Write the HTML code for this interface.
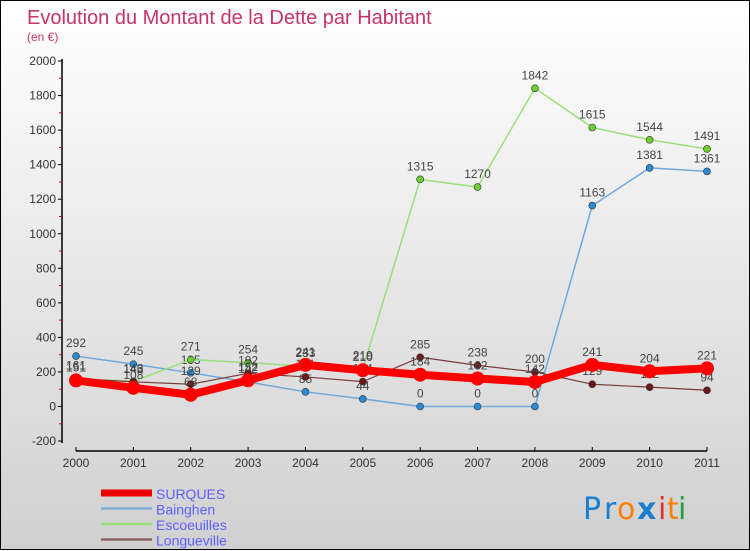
<!DOCTYPE html>
<html><head><meta charset="utf-8">
<style>
html,body{margin:0;padding:0}
body{width:750px;height:550px;overflow:hidden;font-family:"Liberation Sans",sans-serif}
#wrap{position:relative;width:748px;height:548px;border:1px solid #000;background:linear-gradient(#ffffff,#d0d0d0)}
svg{position:absolute;left:0;top:0}
</style></head><body>
<div id="wrap">
<svg id="chart" width="750" height="550">
<text x="26" y="23" font-size="20" fill="#c8336a">Evolution du Montant de la Dette par Habitant</text>
<text x="26" y="40" font-size="12" fill="#c8336a">(en €)</text>
<g id="axes"></g>
<g id="series"></g>
<g id="legend"></g>
<g font-size="30" font-family="'DejaVu Sans',sans-serif">
<text x="582" y="518" fill="#1a7fd0">P</text><text x="603" y="518" fill="#1a7fd0">r</text><text x="616" y="518" fill="#ff7f00">o</text><text x="636" y="518" fill="#1a7fd0" font-weight="bold">x</text><text x="657" y="518" fill="#e03030">i</text><text x="666" y="518" fill="#ff7f00">t</text><text x="677" y="518" fill="#20a040">i</text>
</g>
</svg>
</div>
<script>
const years=["2000","2001","2002","2003","2004","2005","2006","2007","2008","2009","2010","2011"];
const surques=[151,108,68,152,241,210,184,162,142,241,204,221];
const bainghen=[292,245,195,142,85,44,0,0,0,1163,1381,1361];
const escoeuilles=[161,146,271,254,233,219,1315,1270,1842,1615,1544,1491];
const longueville=[161,143,129,192,171,144,285,238,200,129,112,94];
const yTicks=[-200,0,200,400,600,800,1000,1200,1400,1600,1800,2000];
const NS="http://www.w3.org/2000/svg";
function X(i){return 75+i*(706-75)/11;}
function Y(v){return 405.5-v*(405.5-60)/2000;}
function mk(tag,attrs,parent){const e=document.createElementNS(NS,tag);for(const k in attrs)e.setAttribute(k,attrs[k]);parent.appendChild(e);return e;}
const axes=document.getElementById('axes');
let yl=mk('line',{x1:61,y1:58,x2:61,y2:442,stroke:'#000','stroke-width':1.5},axes);


yTicks.forEach(v=>{
 const y=Y(v);
 mk('line',{x1:57,y1:y,x2:61,y2:y,stroke:'#000'},axes);
 const m=Y(v+100);if(v<2000)mk('line',{x1:58,y1:m,x2:61,y2:m,stroke:'#e00000'},axes);
 const t=mk('text',{x:55,y:y+4,'font-size':12,'text-anchor':'end',fill:'#333'},axes);t.textContent=v;
 
 
});
let xl=mk('line',{x1:75,y1:450,x2:706,y2:450,stroke:'#000','stroke-width':1.5},axes);


years.forEach((yr,i)=>{
 mk('line',{x1:X(i),y1:446,x2:X(i),y2:450,stroke:'#000'},axes);
 const t=mk('text',{x:X(i),y:466,'font-size':12,'text-anchor':'middle',fill:'#333'},axes);t.textContent=yr;
 
 
});
const sg=document.getElementById('series');
function draw(data,color,w,r,dot,name){
 const g=mk('g',{},sg);
 
 
 mk('polyline',{points:data.map((v,i)=>X(i)+','+Y(v)).join(' '),fill:'none',stroke:color,'stroke-width':w,'stroke-linejoin':'round'},g);
 data.forEach((v,i)=>{
  const c=mk('circle',{cx:X(i),cy:Y(v),r:r,fill:dot,stroke:'#333','stroke-width':r>5?0:0.6},g);
  
  
  const t=mk('text',{x:X(i),y:Y(v)-9,'font-size':12,'text-anchor':'middle',fill:'#444'},g);t.textContent=v;
  
  
 });
}
draw(bainghen,'#6fa8dc',1.5,3.5,'#2a8ad4','bainghen');
draw(escoeuilles,'#99e07a',1.5,3.5,'#6cd030','escoeuilles');
draw(longueville,'#7a3a3a',1.2,3.5,'#6a1818','longueville');
draw(surques,'#ff0000',8,7,'#ff0000','surques');
const lg=document.getElementById('legend');
const leg=[["SURQUES","#ee0000",7],["Bainghen","#7aaed8",2.5],["Escoeuilles","#99e07a",2.5],["Longueville","#906060",2.5]];
leg.forEach((l,i)=>{
 const y=492+i*15.5;
 const g=mk('g',{},lg);
 
 
 mk('line',{x1:100,y1:y,x2:151,y2:y,stroke:l[1],'stroke-width':l[2]},g);
 const t=mk('text',{x:155,y:y+6,'font-size':14,fill:'#6060ff'},g);t.textContent=l[0];
});
</script>
</body></html>
